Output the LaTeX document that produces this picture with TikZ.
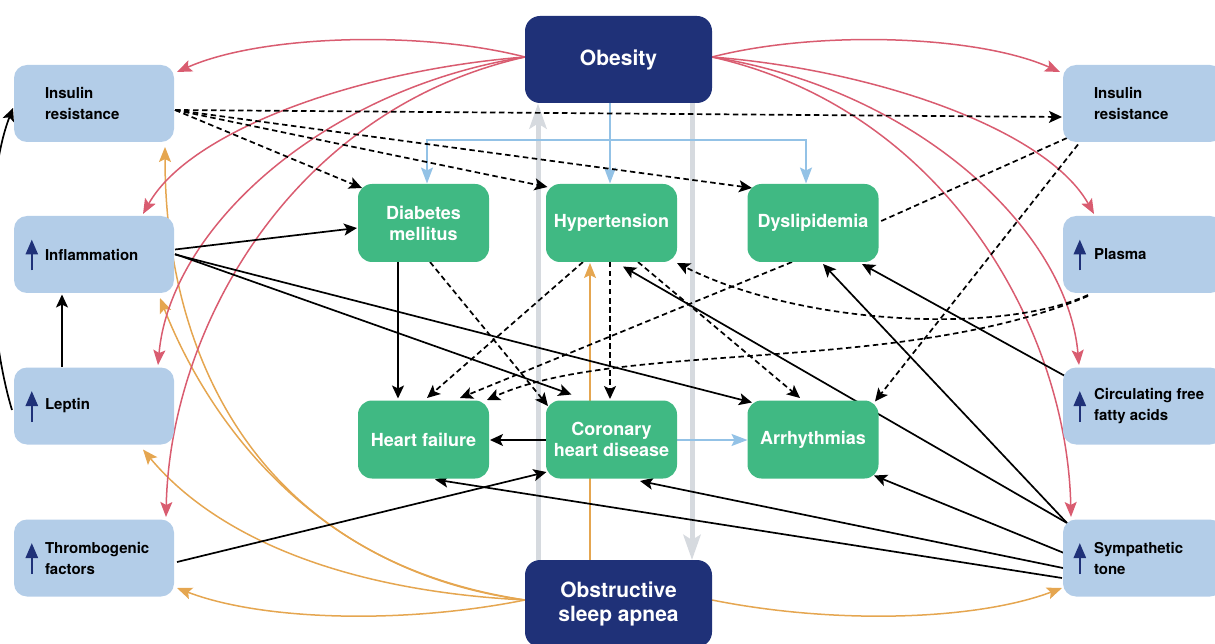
\documentclass[tikz,border=0pt]{standalone}
\usepackage{fontspec}
\setmainfont{TeX Gyre Heros}
\usetikzlibrary{arrows.meta,calc}
\definecolor{navyc}{RGB}{31,49,120}
\definecolor{greenc}{RGB}{64,185,131}
\definecolor{lbluec}{RGB}{179,205,232}
\definecolor{redc}{RGB}{217,92,112}
\definecolor{orangec}{RGB}{229,166,80}
\definecolor{bluec}{RGB}{147,194,230}
\definecolor{grayc}{RGB}{214,218,223}
\newcommand\boxtxt[1]{\hspace*{24pt}\parbox[c]{122pt}{\raggedright #1}}
\pgfdeclarelayer{bg}
\pgfsetlayers{bg,main}
\begin{document}
\begin{tikzpicture}[x=1pt,y=-1pt,
  lbox/.style={fill=lbluec, rounded corners=13pt, minimum width=160pt, minimum height=77pt,
    inner sep=0pt, text=black,
    font=\fontsize{15}{21}\selectfont\bfseries},
  gbox/.style={fill=greenc, rounded corners=14pt, minimum width=131pt, minimum height=78pt,
    inner sep=0pt, align=center, text=white, font=\fontsize{18}{21}\selectfont\bfseries},
  nbox/.style={fill=navyc, rounded corners=15pt, minimum width=187pt, minimum height=87pt,
    inner sep=0pt, align=center, text=white, font=\fontsize{21}{24}\selectfont\bfseries},
  icon/.style={draw=navyc, line width=2.6pt, -{Triangle[length=15pt,width=12pt]}},
  arr/.style={draw=black, line width=1.7pt, -{Stealth[length=13pt,width=12pt,inset=3pt]}},
  dsh/.style={arr, dash pattern=on 5.5pt off 3.5pt},
  dshn/.style={draw=black, line width=1.7pt, dash pattern=on 5.5pt off 3.5pt},
  rd/.style={draw=redc, line width=1.5pt, -{Stealth[length=15pt,width=12pt,inset=3pt]}},
  og/.style={draw=orangec, line width=1.5pt, -{Stealth[length=15pt,width=12pt,inset=3pt]}},
  bl/.style={draw=bluec, line width=2pt, -{Stealth[length=16pt,width=12pt,inset=3pt]}},
  gr/.style={draw=grayc, line width=5pt, -{Stealth[length=25pt,width=17pt,inset=5pt]}}
]
\useasboundingbox (0,0) rectangle (1215,644);
\clip (0,0) rectangle (1215,644);

% left column
\node[lbox] (lir) at (94,103.5) {\boxtxt{Insulin\\resistance}};
\node[lbox] (linf) at (94,254.5) {\boxtxt{Inflammation}};
\node[lbox] (llep) at (94,406) {\boxtxt{Leptin}};
\node[lbox] (lthr) at (94,558) {\boxtxt{Thrombogenic\\factors}};
% right column
\node[lbox] (rir) at (1143,103.5) {\boxtxt{Insulin\\resistance}};
\node[lbox] (rpla) at (1143,254.5) {\boxtxt{Plasma}};
\node[lbox] (rcff) at (1143,406) {\boxtxt{Circulating free\\fatty acids}};
\node[lbox] (rsym) at (1143,558) {\boxtxt{Sympathetic\\tone}};
% centre
\node[nbox] (ob) at (618.5,59.5) {Obesity};
\node[nbox] (osa) at (618.5,603.5) {Obstructive\\sleep apnea};
\node[gbox] (dm) at (423.5,223) {Diabetes\\mellitus};
\node[gbox] (ht) at (611.5,223) {Hypertension};
\node[gbox] (dl) at (813,223) {Dyslipidemia};
\node[gbox] (hf) at (423.5,439.5) {Heart failure};
\node[gbox] (chd) at (611.5,439.5) {Coronary\\heart disease};
\node[gbox] (ar) at (813,439.5) {Arrhythmias};

% icons
\foreach \n in {linf,llep,lthr}{
  \draw[icon] ($(\n.west)+(18,16)$) -- ($(\n.west)+(18,-15)$);
}
\foreach \n in {rpla,rcff,rsym}{
  \draw[icon] ($(\n.west)+(17,16)$) -- ($(\n.west)+(17,-15)$);
}

\begin{pgfonlayer}{bg}
% gray
\draw[gr] ($(osa)+(-80.5,-43.5)$) -- ($(ob)+(-80.5,44)$);
\draw[gr] ($(ob)+(73.5,44)$) -- ($(osa)+(73.5,-43.5)$);

% orange
\draw[og] ($(osa)+(-28.5,-43.5)$) -- ($(ht)+(-21.5,40)$);
\draw[og] ($(osa)+(-93.5,-3.5)$) .. controls (260,560) and (165,360) .. ($(lir)+(71,43.5)$);
\draw[og] ($(osa)+(-93.5,-3.5)$) .. controls (300,570) and (200,400) .. ($(linf)+(66,43.5)$);
\draw[og] ($(osa)+(-93.5,-3.5)$) .. controls (330,590) and (210,530) .. ($(llep)+(49,43.5)$);
\draw[og] ($(osa)+(-93.5,-3.5)$) .. controls (400,625) and (260,620) .. ($(lthr)+(83,30)$);
\draw[og] ($(osa)+(93.5,-3.5)$) .. controls (837,625) and (977,620) .. ($(rsym)+(-81,30)$);

% red
\draw[rd] ($(ob)+(-93.5,-2.5)$) .. controls (420,30) and (260,35) .. ($(lir)+(83,-31.5)$);
\draw[rd] ($(ob)+(-93.5,-2.5)$) .. controls (360,70) and (190,130) .. ($(linf)+(49,-40.5)$);
\draw[rd] ($(ob)+(-93.5,-2.5)$) .. controls (320,90) and (170,230) .. ($(llep)+(64,-41)$);
\draw[rd] ($(ob)+(-93.5,-2.5)$) .. controls (290,110) and (170,330) .. ($(lthr)+(72,-41)$);
\draw[rd] ($(ob)+(93.5,-2.5)$) .. controls (817,30) and (977,35) .. ($(rir)+(-83,-31.5)$);
\draw[rd] ($(ob)+(93.5,-2.5)$) .. controls (877,70) and (1047,130) .. ($(rpla)+(-49,-40.5)$);
\draw[rd] ($(ob)+(93.5,-2.5)$) .. controls (917,90) and (1067,230) .. ($(rcff)+(-64,-41)$);
\draw[rd] ($(ob)+(93.5,-2.5)$) .. controls (947,110) and (1067,330) .. ($(rsym)+(-72,-41)$);

% blue
\draw[bl] ($(ob)+(-8.5,43.5)$) -- ($(ht)+(-1.5,-39.5)$);
\draw[bl] ($(ob)+(-8.5,80.5)$) -| ($(dm)+(3.5,-39.5)$);
\draw[bl] ($(ob)+(-8.5,80.5)$) -| ($(dl)+(-7,-39.5)$);
\draw[bl] ($(chd)+(65.5,0.5)$) -- ($(ar)+(-65.5,0.5)$);

% black dashed
\draw[dsh] ($(lir)+(81,6.5)$) -- ($(rir)+(-81,13.5)$);
\draw[dsh] ($(lir)+(81,6.5)$) -- ($(dm)+(-61.5,-35)$);
\draw[dsh] ($(lir)+(81,6.5)$) -- ($(ht)+(-64,-36)$);
\draw[dsh] ($(lir)+(81,6.5)$) -- ($(dl)+(-61,-35)$);
\draw[dshn] ($(rir)+(-76,34.5)$) -- ($(dl)+(66,-1)$);
\draw[dsh] ($(rir)+(-65,41)$) -- ($(ar)+(62,-38)$);
\draw[dsh] ($(rpla)+(-55,40.5)$) .. controls (1000,335) and (800,325) .. ($(ht)+(65.5,40)$);
\draw[dsh] ($(rpla)+(-55,41.5)$) .. controls (900,375) and (620,340) .. ($(hf)+(63.5,-39.5)$);
\draw[dsh] ($(ht)+(-28.5,39)$) -- ($(hf)+(3.5,-41.5)$);
\draw[dsh] ($(dl)+(-21,39)$) -- ($(hf)+(36.5,-41.5)$);
\draw[dsh] ($(dm)+(6.5,39)$) -- ($(chd)+(-63.5,-33.5)$);
\draw[dsh] ($(ht)+(-1.5,39)$) -- ($(chd)+(-1.5,-40.5)$);
\draw[dsh] ($(ht)+(26.5,39)$) -- ($(ar)+(-13,-41.5)$);

% black solid
\draw[arr] ($(dm)+(-25.5,39)$) -- ($(hf)+(-25.5,-41)$);
\draw[arr] ($(linf)+(81,-5)$) -- ($(dm)+(-66.5,5)$);
\draw[arr] ($(linf)+(81,-0.5)$) -- ($(chd)+(-40,-45)$);
\draw[arr] ($(linf)+(81,0)$) -- ($(ar)+(-61,-37)$);
\draw[arr] ($(llep)+(-32,-39)$) -- ($(linf)+(-32,40)$);
\draw[arr] ($(llep)+(-82,4)$) .. controls (-15,320) and (-15,180) .. ($(lir)+(-81,4.5)$);
\draw[arr] ($(chd)+(-65.5,0.5)$) -- ($(hf)+(66.5,0.5)$);
\draw[arr] ($(lthr)+(83,4)$) -- ($(chd)+(-65,32.5)$);
\draw[arr] ($(rcff)+(-78,-30)$) -- ($(dl)+(49,41)$);
\draw[arr] ($(rsym)+(-76,-35)$) -- ($(ht)+(11.5,43.5)$);
\draw[arr] ($(rsym)+(-76,-35)$) -- ($(dl)+(10,41)$);
\draw[arr] ($(rsym)+(-79,-5)$) -- ($(ar)+(61,36)$);
\draw[arr] ($(rsym)+(-80,10)$) -- ($(chd)+(28.5,41.5)$);
\draw[arr] ($(rsym)+(-81,20)$) -- ($(hf)+(11.5,40)$);
\end{pgfonlayer}
\end{tikzpicture}
\end{document}
